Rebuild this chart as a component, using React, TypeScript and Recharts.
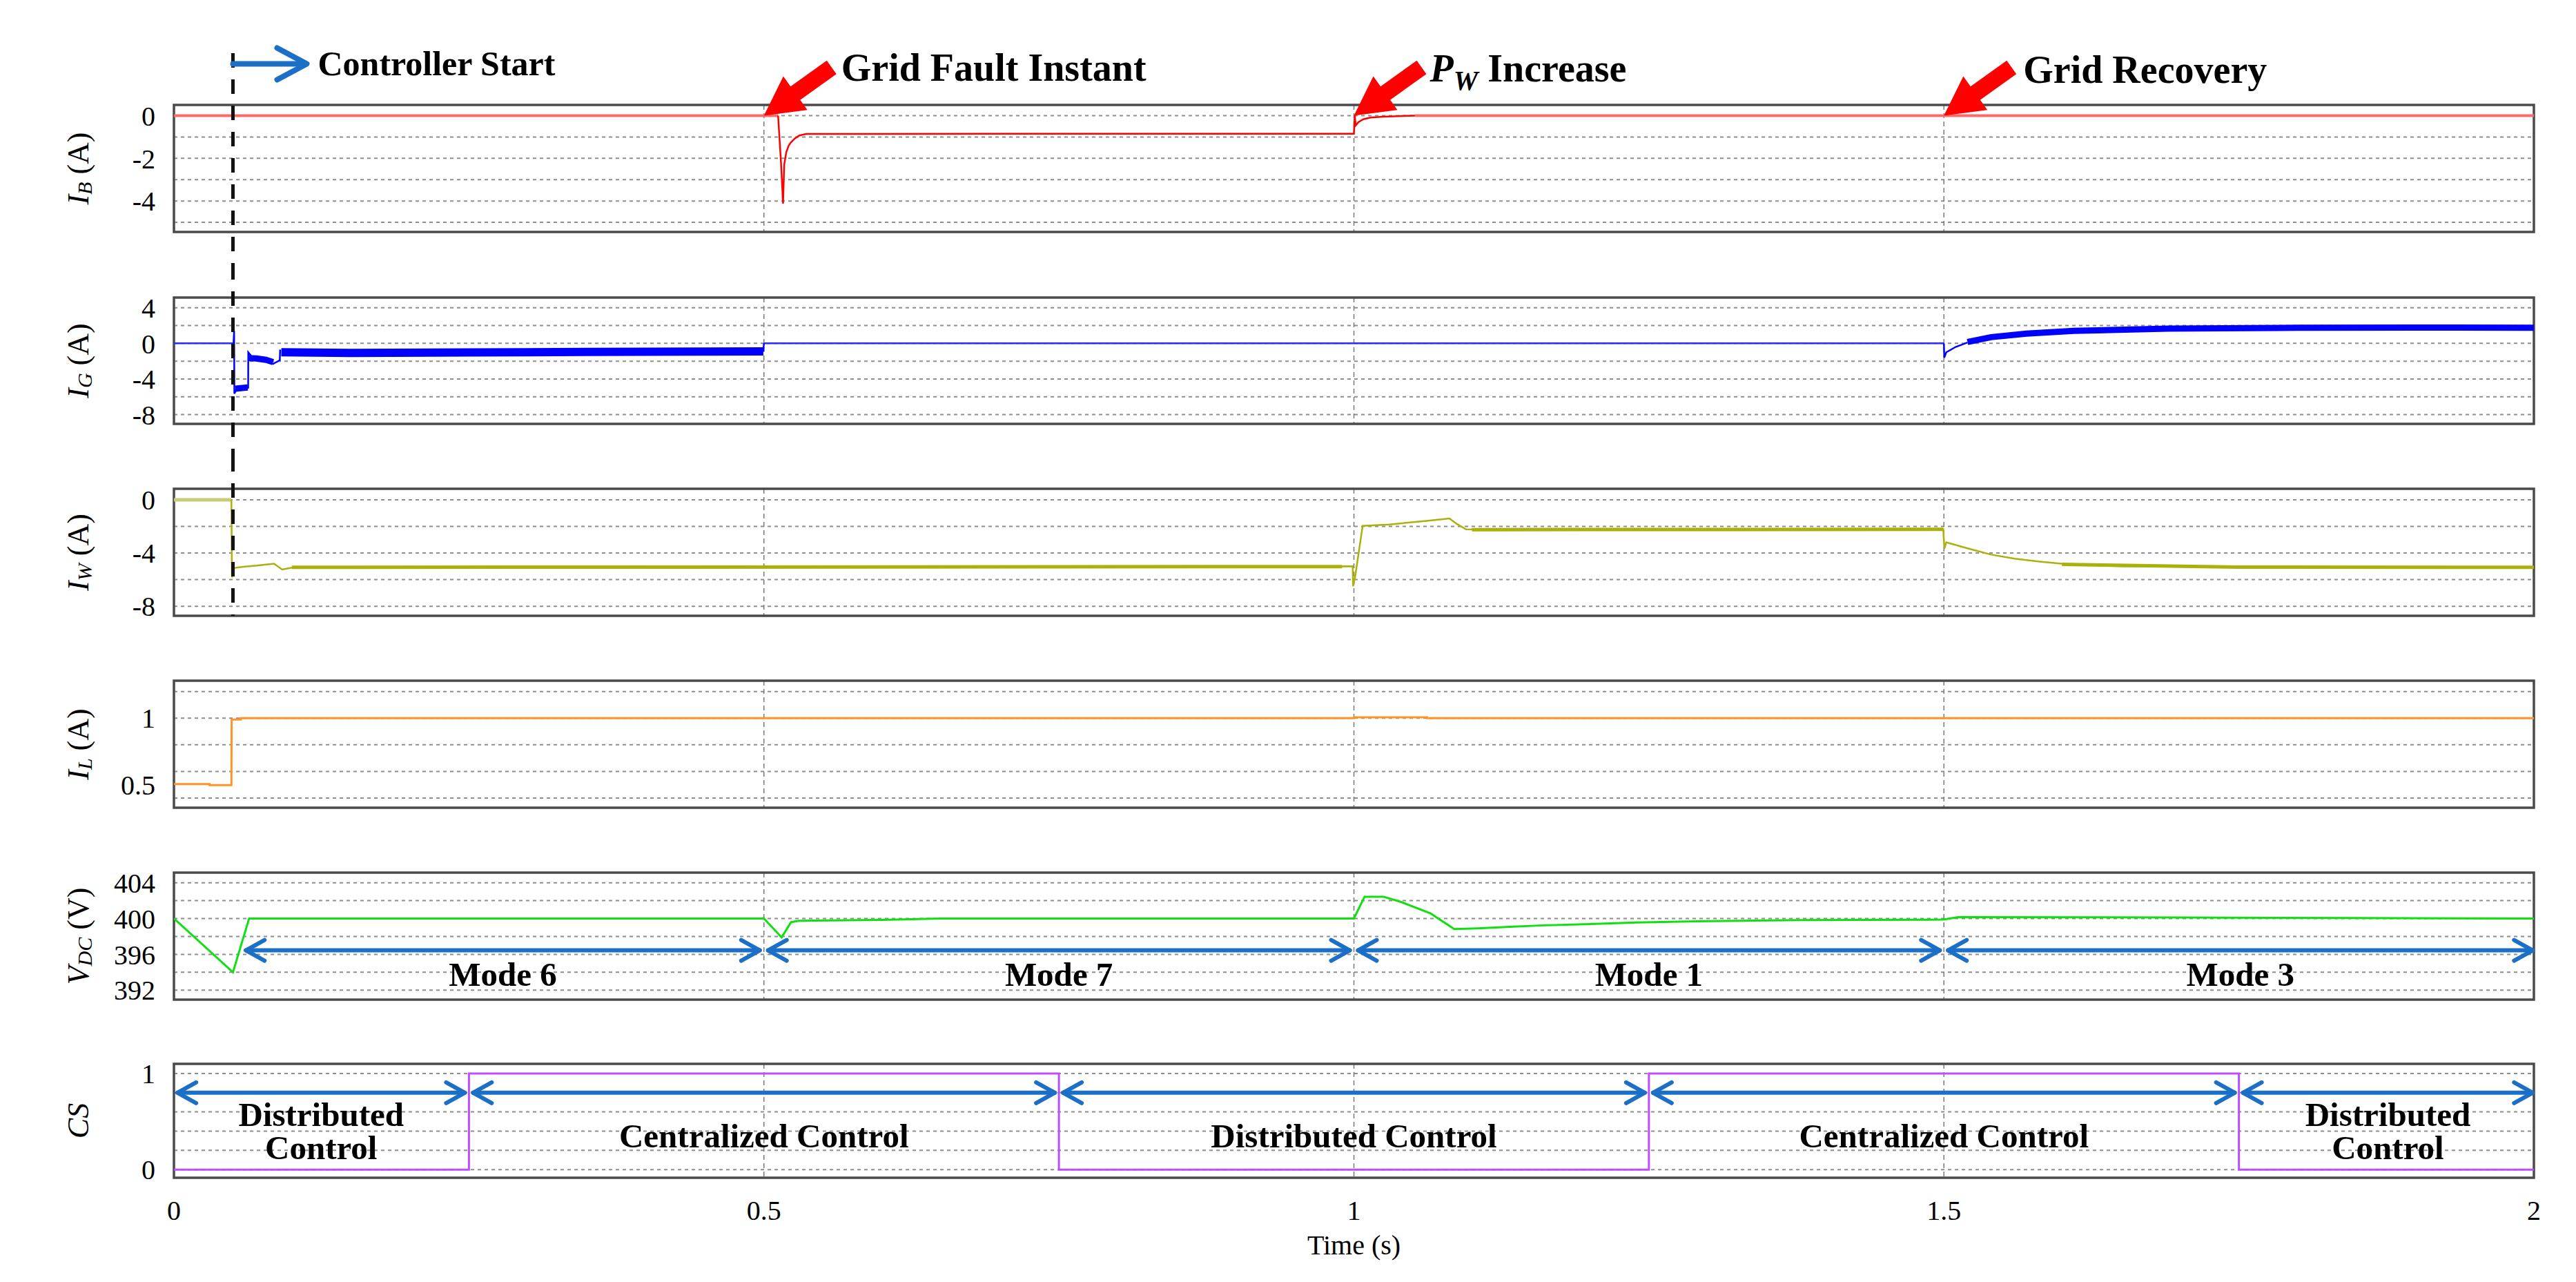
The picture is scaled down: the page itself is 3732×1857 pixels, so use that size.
import React from "react";
import {
  CartesianGrid,
  Line,
  LineChart,
  ReferenceArea,
  ReferenceDot,
  ReferenceLine,
  XAxis,
  YAxis,
} from "recharts";

type Pt = [number, number | null];

const FONT = '"Liberation Serif", "Times New Roman", serif';
const CHART_W = 3732;
const BLUE = "#1c6fc6";

// time axis (s)
const timeDomain: [number, number] = [0, 2];
const timeTicks = [0, 0.5, 1, 1.5, 2];
const timeGrid = [0.5, 1, 1.5];
const startTime = 0.05;

// I_B (A)
const ibDomain: [number, number] = [-5.45, 0.5];
const ibTicks = [0, -2, -4];
const ibGrid = [0, -1, -2, -3, -4, -5];
const ibSteady: Pt[] = [[0, 0], [0.512, 0], [0.515, null], [1.052, 0], [2, 0]];
const ibFault: Pt[] = [
  [0.512, 0], [0.5145, -2.23], [0.5162, -4.12], [0.5172, -2.3], [0.519, -1.7],
  [0.521, -1.4], [0.523, -1.25], [0.526, -1.08], [0.53, -0.93], [0.536, -0.86],
  [0.7, -0.85], [0.85, -0.85], [1.0, -0.85], [1.0007, 0.03], [1.0015, -0.46],
  [1.004, -0.3], [1.008, -0.17], [1.014, -0.09], [1.025, -0.05], [1.052, 0],
];

// I_G (A)
const igDomain: [number, number] = [-9.05, 5.15];
const igTicks = [4, 0, -4, -8];
const igGrid = [4, 2, 0, -2, -4, -6, -8];
const igZero: Pt[] = [[0, 0], [0.0505, 0], [0.06, null], [0.5, 0], [1.5, 0]];
const igThin: Pt[] = [
  [0.0505, 0], [0.051, 1.4], [0.0512, -5.66], [0.0525, -5.3], [0.0629, -5.0],
  [0.063, -1.0], [0.066, -1.5], [0.076, -1.75], [0.084, -2.3], [0.0897, -1.9],
  [0.09, -0.7], [0.095, null], [0.4995, -0.9], [0.5, 0], [0.501, null],
  [1.5, 0], [1.5003, -1.6], [1.502, -1.0], [1.51, -0.4], [1.52, 0.1],
];
const igBandStart: Pt[] = [
  [0.052, -5.1], [0.0625, -4.95], [0.063, null], [0.0635, -1.65], [0.07, -1.7],
  [0.078, -1.85], [0.084, -2.1],
];
const igBandFault: Pt[] = [
  [0.091, -1.0], [0.15, -1.08], [0.25, -1.02], [0.35, -0.96], [0.45, -0.92], [0.4995, -0.9],
];
const igBandRecovery: Pt[] = [
  [1.52, 0.15], [1.54, 0.7], [1.57, 1.1], [1.61, 1.4], [1.69, 1.65], [1.8, 1.75],
  [1.9, 1.78], [2, 1.75],
];

// I_W (A)
const iwDomain: [number, number] = [-8.72, 0.83];
const iwTicks = [0, -4, -8];
const iwGrid = [0, -2, -4, -6, -8];
const iwSteady: Pt[] = [[0, 0], [0.0487, 0]];
const iwThin: Pt[] = [
  [0.0487, 0], [0.0492, -5.83], [0.0505, -5.13], [0.06, -5.02], [0.07, -4.95],
  [0.0848, -4.8], [0.0917, -5.24], [0.1, -5.1], [0.4, -5.08], [0.7, -5.06],
  [0.999, -5.0], [0.9993, -6.5], [1.001, -5.8], [1.0074, -1.96], [1.03, -1.85],
  [1.06, -1.6], [1.081, -1.4], [1.087, -1.8], [1.095, -2.22], [1.2, -2.24],
  [1.35, -2.22], [1.4995, -2.2], [1.5, -3.08], [1.5004, -3.66], [1.502, -3.2],
  [1.52, -3.65], [1.54, -4.12], [1.56, -4.42], [1.581, -4.64], [1.609, -4.88],
  [1.65, -5.0], [1.75, -5.06], [2, -5.08],
];
const iwBand: Pt[] = [
  [0.1, -5.08], [0.99, -5.02], [1.0, null], [1.1, -2.24], [1.4995, -2.22], [1.5, null],
  [1.6, -4.85], [1.75, -5.06], [2, -5.08],
];

// I_L (A)
const ilDomain: [number, number] = [0.328, 1.281];
const ilTicks = [0.5, 1];
const ilGrid = [1.2, 1.0, 0.8, 0.6, 0.4];
const ilSeries: Pt[] = [
  [0, 0.506], [0.0302, 0.506], [0.0302, 0.497], [0.0487, 0.497], [0.0489, 0.99],
  [0.0566, 0.99], [0.0566, 1.0], [1.0, 1.0], [1.0002, 1.006], [1.062, 1.006],
  [1.062, 1.0], [2, 1.0],
];

// V_DC (V)
const vdcDomain: [number, number] = [390.94, 405.13];
const vdcTicks = [392, 396, 400, 404];
const vdcGrid = [404, 402, 400, 398, 396, 394, 392];
const vdcSeries: Pt[] = [
  [0, 400], [0.05, 394], [0.0637, 400], [0.5, 400], [0.515, 397.9], [0.523, 399.6],
  [0.53, 399.75], [0.6, 399.85], [0.65, 400], [1.0, 400], [1.009, 402.44],
  [1.025, 402.44], [1.04, 401.85], [1.065, 400.57], [1.085, 398.82], [1.105, 398.9],
  [1.132, 399.08], [1.161, 399.24], [1.196, 399.37], [1.239, 399.55], [1.292, 399.7],
  [1.379, 399.83], [1.4995, 399.88], [1.512, 400.16], [1.7, 400.12], [1.85, 400.05],
  [2, 400.0],
];
const modeArrowV = 396.45;
const modeLabelV = 392.5;
const modeFrom = [0.061, 0.5035, 1.0035, 1.5035];
const modeTo = [0.4965, 0.9965, 1.4965, 1.999];
const modeNames = ["Mode 6", "Mode 7", "Mode 1", "Mode 3"];

// CS
const csDomain: [number, number] = [-0.085, 1.1];
const csTicks = [0, 1];
const csGrid = [1, 0.8, 0.6, 0.4, 0.2, 0];
const csSeries: Pt[] = [
  [0, 0], [0.25, 0], [0.25, 1], [0.75, 1], [0.75, 0], [1.25, 0], [1.25, 1],
  [1.75, 1], [1.75, 0], [2, 0],
];
const csArrowV = 0.8;
const csFrom = [0.003, 0.2535, 0.7535, 1.2535, 1.7535];
const csTo = [0.2465, 0.7465, 1.2465, 1.7465, 1.999];
const csNames = [
  ["Distributed", "Control"],
  ["Centralized Control"],
  ["Distributed Control"],
  ["Centralized Control"],
  ["Distributed", "Control"],
];
const csTwoLineV = [0.455, 0.11];
const csOneLineV = 0.234;

// events marked above I_B
const eventTimes = [0.5, 1.0, 1.5];
const eventNames = ["Grid Fault Instant", "PW Increase", "Grid Recovery"];

const rows = (pts: Pt[]) => pts.map(([t, v]) => ({ t, v }));

const series = (key: string, pts: Pt[], color: string, width: number) => (
  <Line
    key={key}
    data={rows(pts)}
    dataKey="v"
    type="linear"
    stroke={color}
    strokeWidth={width}
    dot={false}
    activeDot={false}
    connectNulls={false}
    isAnimationActive={false}
  />
);

const yLabel = (main: string, sub: string, unit: string) => (props: any) => {
  const vb = props.viewBox || { x: 0, y: 0, width: 0, height: 0 };
  const cy = vb.y + vb.height / 2;
  const x = 113;
  return (
    <text
      x={x}
      y={cy}
      transform={`rotate(-90 ${x} ${cy})`}
      textAnchor="middle"
      dominantBaseline="central"
      fontFamily={FONT}
      fontSize={44}
      fill="#000"
    >
      <tspan fontStyle="italic">{main}</tspan>
      {sub ? (
        <tspan fontStyle="italic" fontSize={30} dy={9}>
          {sub}
        </tspan>
      ) : null}
      {unit ? <tspan dy={sub ? -9 : 0}>{unit}</tspan> : null}
    </text>
  );
};

const timeLabel = (props: any) => {
  const vb = props.viewBox || { x: 0, y: 0, width: 0, height: 0 };
  return (
    <text
      x={vb.x + vb.width / 2}
      y={vb.y + 111}
      textAnchor="middle"
      fontFamily={FONT}
      fontSize={40}
      fill="#000"
    >
      Time (s)
    </text>
  );
};

const startLine = (up: number, down: number) => (p: any) => {
  const y0 = Math.min(p.y1, p.y2) - up;
  const y1 = Math.max(p.y1, p.y2) + down;
  return (
    <line x1={p.x1} x2={p.x1} y1={y0} y2={y1} stroke="#111" strokeWidth={5} strokeDasharray="21 17" />
  );
};

const doubleArrow = (p: any) => {
  const xa = Math.min(p.x1, p.x2);
  const xb = Math.max(p.x1, p.x2);
  const y = p.y1;
  return (
    <g stroke={BLUE} strokeWidth={6} fill="none" strokeLinecap="round" strokeLinejoin="round">
      <line x1={xa} y1={y} x2={xb} y2={y} />
      <polyline points={`${xa + 27},${y - 15} ${xa},${y} ${xa + 27},${y + 15}`} />
      <polyline points={`${xb - 27},${y - 15} ${xb},${y} ${xb - 27},${y + 15}`} />
    </g>
  );
};

const boldText = (text: string, size: number) => (p: any) => (
  <text
    x={p.cx}
    y={p.cy}
    textAnchor="middle"
    fontFamily={FONT}
    fontWeight="bold"
    fontSize={size}
    fill="#000"
  >
    {text}
  </text>
);

const eventMark = (name: string, i: number) => (p: any) => {
  const tipX = p.cx;
  const tipY = p.cy;
  const tx = tipX + 98;
  const ty = tipY - 70;
  const dx = tipX - tx;
  const dy = tipY - ty;
  const len = Math.hypot(dx, dy);
  const ux = dx / len;
  const uy = dy / len;
  const nx = -uy;
  const ny = ux;
  const bx = tipX - ux * 56;
  const by = tipY - uy * 56;
  const pts = [
    [tipX, tipY],
    [bx + nx * 30, by + ny * 30],
    [bx + nx * 12, by + ny * 12],
    [tx + nx * 12, ty + ny * 12],
    [tx - nx * 12, ty - ny * 12],
    [bx - nx * 12, by - ny * 12],
    [bx - nx * 30, by - ny * 30],
  ]
    .map((q) => q.join(","))
    .join(" ");
  const textX = tipX + [112, 110, 115][i];
  const textY = tipY - [50, 49, 47][i];
  return (
    <g>
      <polygon points={pts} fill="#ff0000" />
      <text x={textX} y={textY} fontFamily={FONT} fontWeight="bold" fontSize={56} fill="#000">
        {name.startsWith("PW") ? (
          <>
            <tspan fontStyle="italic">P</tspan>
            <tspan fontStyle="italic" fontSize={40} dy={12}>W</tspan>
            <tspan dy={-12}>{name.slice(2)}</tspan>
          </>
        ) : (
          name
        )}
      </text>
    </g>
  );
};

const controllerStart = (p: any) => {
  const x = p.cx;
  const y = p.cy - 75;
  return (
    <g>
      <g stroke={BLUE} strokeWidth={8} fill="none" strokeLinecap="round" strokeLinejoin="round">
        <line x1={x} y1={y} x2={x + 105} y2={y} />
        <polyline points={`${x + 64},${y - 23} ${x + 107},${y} ${x + 64},${y + 23}`} />
      </g>
      <text x={x + 123} y={p.cy - 58} fontFamily={FONT} fontWeight="bold" fontSize={50} fill="#000">
        Controller Start
      </text>
    </g>
  );
};

type PanelProps = {
  top: number;
  height: number;
  mt: number;
  mb: number;
  domain: [number, number];
  ticks: number[];
  grid: number[];
  label: (props: any) => React.ReactNode;
  showTime?: boolean;
  children?: React.ReactNode;
};

function Panel({ top, height, mt, mb, domain, ticks, grid, label, showTime, children }: PanelProps) {
  return (
    <div style={{ position: "absolute", left: 0, top, width: CHART_W, height }}>
      <LineChart width={CHART_W} height={height} margin={{ top: mt, right: 61, bottom: mb, left: 0 }}>
        <CartesianGrid
          vertical={false}
          horizontalValues={grid}
          stroke="#8e8e8e"
          strokeWidth={2}
          strokeDasharray="5 5"
        />
        <CartesianGrid
          horizontal={false}
          verticalValues={timeGrid}
          stroke="#7a7a7a"
          strokeWidth={1.5}
          strokeDasharray="7 5"
        />
        <XAxis
          type="number"
          dataKey="t"
          domain={timeDomain}
          ticks={timeTicks}
          allowDataOverflow
          hide={!showTime}
          height={showTime ? 151 : 0}
          axisLine={false}
          tickLine={false}
          tickSize={0}
          tickMargin={33}
          interval={0}
          tick={{ fontSize: 40, fill: "#000", fontFamily: FONT }}
          label={showTime ? timeLabel : undefined}
        />
        <YAxis
          type="number"
          domain={domain}
          ticks={ticks}
          allowDataOverflow
          width={252}
          axisLine={false}
          tickLine={false}
          tickSize={0}
          tickMargin={27}
          interval={0}
          tick={{ fontSize: 40, fill: "#000", fontFamily: FONT }}
          label={label}
        />
        <ReferenceArea
          x1={timeDomain[0]}
          x2={timeDomain[1]}
          y1={domain[0]}
          y2={domain[1]}
          fill="none"
          fillOpacity={0}
          stroke="#4a4a4a"
          strokeWidth={3.5}
          ifOverflow="visible"
        />
        {children}
      </LineChart>
    </div>
  );
}

export default function App() {
  return (
    <div
      style={{
        position: "absolute",
        left: 0,
        top: 0,
        width: CHART_W,
        height: 1857,
        background: "#fff",
        overflow: "hidden",
      }}
    >
      <Panel top={0} height={384} mt={152} mb={48} domain={ibDomain} ticks={ibTicks} grid={ibGrid} label={yLabel("I", "B", " (A)")}>
        {series("ibSteady", ibSteady, "#ff6868", 4)}
        {series("ibFault", ibFault, "#ff0000", 2.5)}
        <ReferenceLine x={startTime} ifOverflow="visible" shape={startLine(75, 48)} />
        <ReferenceDot x={startTime} y={0} ifOverflow="visible" shape={controllerStart} />
        {eventTimes.map((t, i) => (
          <ReferenceDot key={`ev${i}`} x={t} y={0} ifOverflow="visible" shape={eventMark(eventNames[i], i)} />
        ))}
      </Panel>

      <Panel top={384} height={278} mt={47} mb={48} domain={igDomain} ticks={igTicks} grid={igGrid} label={yLabel("I", "G", " (A)")}>
        {series("igZero", igZero, "#2a2aff", 2.5)}
        {series("igBandStart", igBandStart, "#0000ff", 9)}
        {series("igBandFault", igBandFault, "#0000ff", 12)}
        {series("igBandRecovery", igBandRecovery, "#0000ff", 9)}
        {series("igThin", igThin, "#0000ff", 2.5)}
        <ReferenceLine x={startTime} ifOverflow="visible" shape={startLine(47, 48)} />
      </Panel>

      <Panel top={662} height={278} mt={46} mb={48} domain={iwDomain} ticks={iwTicks} grid={iwGrid} label={yLabel("I", "W", " (A)")}>
        {series("iwSteady", iwSteady, "#c9cc74", 5)}
        {series("iwBand", iwBand, "#a9b10a", 5)}
        {series("iwThin", iwThin, "#a9b10a", 2.5)}
        <ReferenceLine x={startTime} ifOverflow="visible" shape={startLine(46, 0)} />
      </Panel>

      <Panel top={940} height={277} mt={46} mb={47} domain={ilDomain} ticks={ilTicks} grid={ilGrid} label={yLabel("I", "L", " (A)")}>
        {series("il", ilSeries, "#ff9326", 3)}
      </Panel>

      <Panel top={1217} height={278} mt={47} mb={47} domain={vdcDomain} ticks={vdcTicks} grid={vdcGrid} label={yLabel("V", "DC", " (V)")}>
        {series("vdc", vdcSeries, "#10e010", 3)}
        {modeNames.map((name, i) => (
          <ReferenceLine
            key={`ma${i}`}
            segment={[
              { x: modeFrom[i], y: modeArrowV },
              { x: modeTo[i], y: modeArrowV },
            ]}
            ifOverflow="visible"
            shape={doubleArrow}
          />
        ))}
        {modeNames.map((name, i) => (
          <ReferenceDot
            key={`ml${i}`}
            x={(modeFrom[i] + modeTo[i]) / 2}
            y={modeLabelV}
            ifOverflow="visible"
            shape={boldText(name, 49)}
          />
        ))}
      </Panel>

      <Panel top={1495} height={362} mt={46} mb={0} domain={csDomain} ticks={csTicks} grid={csGrid} label={yLabel("CS", "", "")} showTime>
        {series("cs", csSeries, "#c04cff", 3)}
        {csNames.map((lines, i) => (
          <ReferenceLine
            key={`ca${i}`}
            segment={[
              { x: csFrom[i], y: csArrowV },
              { x: csTo[i], y: csArrowV },
            ]}
            ifOverflow="visible"
            shape={doubleArrow}
          />
        ))}
        {csNames.map((lines, i) =>
          lines.map((line, j) => (
            <ReferenceDot
              key={`cl${i}-${j}`}
              x={(csFrom[i] + csTo[i]) / 2}
              y={lines.length > 1 ? csTwoLineV[j] : csOneLineV}
              ifOverflow="visible"
              shape={boldText(line, 49)}
            />
          ))
        )}
      </Panel>
    </div>
  );
}
